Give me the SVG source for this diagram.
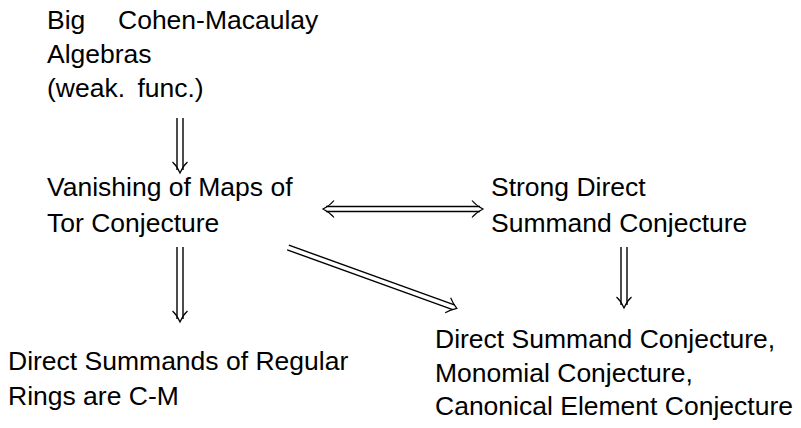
<svg xmlns="http://www.w3.org/2000/svg" width="801" height="428" viewBox="0 0 801 428">
  <style>
    text { font-family: "Liberation Sans", "DejaVu Sans", sans-serif; font-size: 26.5px; fill: #000; }
    .shaft { stroke: #000; stroke-width: 1.4; fill: none; }
    .head { stroke: #000; stroke-width: 1.2; fill: none; stroke-linejoin: miter; }
  </style>
  <rect width="801" height="428" fill="#fff"/>

  <g id="node-bigcm">
    <text x="47" y="29">Big<tspan x="118">Cohen-Macaulay</tspan></text>
    <text x="47" y="63">Algebras</text>
    <text x="47" y="97">(weak. <tspan dx="5">func.)</tspan></text>
  </g>

  <g id="node-vanishing">
    <text x="47" y="196">Vanishing of Maps of</text>
    <text x="47" y="232">Tor Conjecture</text>
  </g>

  <g id="node-strong">
    <text x="491" y="196">Strong Direct</text>
    <text x="491" y="232">Summand Conjecture</text>
  </g>

  <g id="node-regular">
    <text x="8" y="370">Direct Summands of Regular</text>
    <text x="8" y="405">Rings are C-M</text>
  </g>

  <g id="node-dsc">
    <text x="435" y="348">Direct Summand Conjecture,</text>
    <text x="435" y="382">Monomial Conjecture,</text>
    <text x="435" y="415">Canonical Element Conjecture</text>
  </g>

  <g id="connectors">
    <!-- Big CM algebras => Vanishing -->
    <path class="shaft" d="M177,118 V170 M183,118 V170"/>
    <path class="head" d="M172.5,162 Q177,166 180,173 Q183,166 187.5,162"/>

    <!-- Vanishing => Direct summands of regular rings -->
    <path class="shaft" d="M177,247 V319 M183,247 V319"/>
    <path class="head" d="M172.5,311 Q177,315 180,322 Q183,315 187.5,311"/>

    <!-- Strong DSC => DSC -->
    <path class="shaft" d="M621,247 V305 M627,247 V305"/>
    <path class="head" d="M616.5,297 Q621,301 624,308 Q627,301 631.5,297"/>

    <!-- Vanishing <=> Strong DSC -->
    <path class="shaft" d="M326,206.5 H480 M326,211.5 H480"/>
    <path class="head" d="M334,200.5 Q330,205.5 323,209 Q330,212.5 334,217.5"/>
    <path class="head" d="M472,200.5 Q476,205.5 483,209 Q476,212.5 472,217.5"/>

    <!-- Vanishing => DSC (diagonal) -->
    <g transform="translate(288,247.5) rotate(19.85)">
      <path class="shaft" d="M0,-2.5 H176 M0,2.5 H176"/>
      <path class="head" d="M170,-8 Q174,-3.5 179.5,0 Q174,3.5 170,8"/>
    </g>
  </g>
</svg>
